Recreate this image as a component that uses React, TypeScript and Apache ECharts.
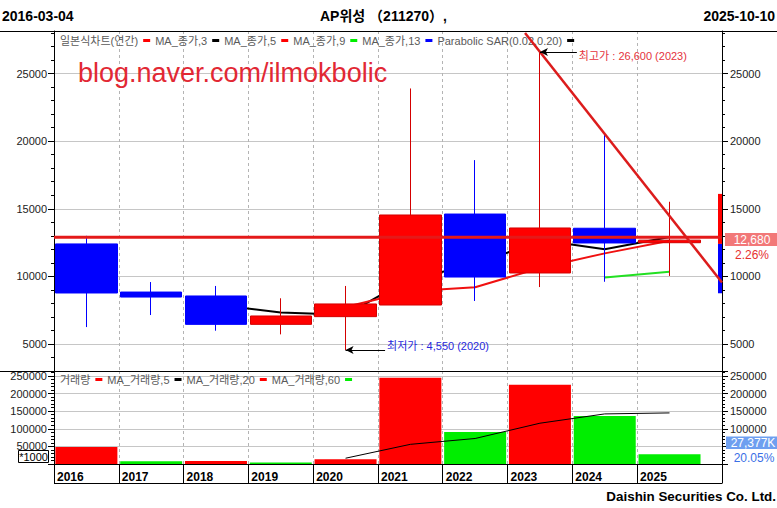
import React, { useEffect, useRef } from 'react';
import * as echarts from 'echarts';

// ---- data ----
const years = ['2016', '2017', '2018', '2019', '2020', '2021', '2022', '2023', '2024', '2025'];
const opens = [12400, 8840, 8550, 6450, 7020, 7880, 14610, 10250, 13560, 12490];
const closes = [8770, 8470, 6450, 7070, 7960, 14540, 9950, 13580, 12470, 12680];
const lows = [6250, 7140, 5980, 5710, 4550, 7880, 8180, 9210, 9600, 10030];
const highs = [13000, 9580, 9290, 8380, 9290, 23900, 18600, 26600, 20450, 15520];
const ma3 = [null, null, 7900, 7330, 7160, 9860, 10820, 12690, 12000, 12910];
const ma5 = [null, null, null, null, 7740, 8900, 9190, 10620, 11700, 12640];
const ma9 = [null, null, null, null, null, null, null, null, 9920, 10350];
const volumes = [48000, 7800, 8200, 4300, 13700, 245000, 90800, 225000, 136600, 27377];
const volMa5 = [null, null, null, null, 16400, 55800, 72400, 115800, 142200, 145000];
const trendX = [7.27, 10.31];
const trendY = [28000, 9550];
const levelLine = 12900;
const sideBarLevels = [16100, 12400, 8750];
const highIdx = 7;
const highVal = 26600;
const lowIdx = 4;
const lowVal = 4550;
const startDate = '2016-03-04';
const endDate = '2025-10-10';
const title = 'AP위성 （211270）,';
const lastPriceText = '12,680';
const lastPriceChg = '2.26%';
const lastVolText = '27,377K';
const lastVolChg = '20.05%';

const FONT = "'Liberation Sans', 'Noto Sans CJK KR', Arial, sans-serif";
const X_MAX = 10.31;
const RED = '#ff0000';
const BLUE = '#0000ff';
const GREEN = '#00ee00';
const CANDLE_NAME = '일본식차트(연간)';

export default function App() {
  const ref = useRef<HTMLDivElement>(null);

  useEffect(() => {
    const chart = echarts.init(ref.current!, null, { renderer: 'svg' });
    const candleData = years.map((_, i) => [i + 0.5, opens[i], closes[i], lows[i], highs[i]]);
    const toLine = (arr: (number | null)[]) =>
      arr.map((v, i) => (v == null ? null : [i + 0.5, v])).filter((d) => d !== null);
    const boundaryTicks = years.map((_, i) => i);
    const volData = volumes.map((v, i) => ({
      value: [i + 0.5, v],
      itemStyle: { color: i === 0 || v >= volumes[i - 1] ? RED : GREEN },
    }));
    const sideData = [
      [10.279, sideBarLevels[1], sideBarLevels[0]],
      [10.279, sideBarLevels[2], sideBarLevels[1]],
    ];
    const sideColors = [RED, BLUE];

    const vDash = { show: true, lineStyle: { color: '#b4b4b4', type: [3, 3], width: 1 } };
    const hGrid = { show: true, lineStyle: { color: '#c6c6c6', width: 1 }, showMinLine: false, showMaxLine: false };
    const labelBase = { fontSize: 11, color: '#222', fontFamily: FONT, formatter: (v: number) => String(v) };
    const legItem = (name: string, color: string) => ({
      name,
      icon: 'rect',
      itemStyle: { color, borderWidth: 0, borderColor: color },
      lineStyle: { width: 0 },
    });

    const txt = (x: number, y: number, text: string, o: any = {}) => ({
      type: 'text',
      x,
      y,
      z: 100,
      style: {
        text,
        fontSize: o.fontSize ?? 12,
        fontWeight: o.fontWeight ?? 'normal',
        fontFamily: FONT,
        fill: o.fill ?? '#000',
        align: o.align ?? 'left',
        textAlign: o.align ?? 'left',
        verticalAlign: 'middle',
        textVerticalAlign: 'middle',
      },
    });
    const ln = (x1: number, y1: number, x2: number, y2: number) => ({
      type: 'line',
      z: 90,
      shape: { x1, y1, x2, y2 },
      style: { stroke: '#000', lineWidth: 1 },
    });

    const legendBase = {
      left: 60,
      padding: 0,
      align: 'right',
      icon: 'rect',
      itemWidth: 7,
      itemHeight: 3,
      itemGap: 5,
      selectedMode: false,
      itemStyle: { borderWidth: 0 },
      textStyle: { fontSize: 11, color: '#5a5a5a', fontFamily: FONT },
    };

    const emptyLine = (name: string, color: string, xi: number, yi: number) => ({
      name,
      type: 'line',
      xAxisIndex: xi,
      yAxisIndex: yi,
      symbol: 'none',
      data: [],
      lineStyle: { color },
      itemStyle: { color },
    });

    const option: any = {
      animation: false,
      backgroundColor: '#fff',
      textStyle: { fontFamily: FONT },
      grid: [
        { left: 54, top: 31, width: 668, height: 340, outerBoundsMode: 'none' },
        { left: 54, top: 371, width: 668, height: 93, outerBoundsMode: 'none' },
      ],
      legend: [
        {
          ...legendBase,
          top: 35,
          data: [
            legItem(CANDLE_NAME, RED),
            legItem('MA_종가,3', '#000'),
            legItem('MA_종가,5', RED),
            legItem('MA_종가,9', GREEN),
            legItem('MA_종가,13', BLUE),
            legItem('Parabolic SAR(0.02,0.20)', '#000'),
          ],
        },
        {
          ...legendBase,
          top: 374,
          data: [
            legItem('거래량', RED),
            legItem('MA_거래량,5', '#000'),
            legItem('MA_거래량,20', RED),
            legItem('MA_거래량,60', GREEN),
          ],
        },
      ],
      xAxis: [
        {
          gridIndex: 0,
          type: 'value',
          min: 0,
          max: X_MAX,
          interval: 1,
          axisLine: { show: false },
          axisTick: { show: false, customValues: boundaryTicks },
          axisLabel: { show: false },
          splitLine: vDash,
        },
        {
          gridIndex: 1,
          type: 'value',
          min: 0,
          max: X_MAX,
          interval: 1,
          position: 'bottom',
          axisLine: { show: true, lineStyle: { color: '#000', width: 1 } },
          axisTick: {
            show: true,
            inside: false,
            length: 19,
            lineStyle: { color: '#000' },
            customValues: [...boundaryTicks, X_MAX],
          },
          axisLabel: {
            show: true,
            customValues: boundaryTicks,
            formatter: (v: number) => years[Math.round(v)] ?? '',
            align: 'left',
            verticalAlign: 'middle',
            margin: 13,
            padding: [0, 0, 0, 3],
            fontSize: 12,
            fontWeight: 'bold',
            color: '#000',
            fontFamily: FONT,
          },
          splitLine: vDash,
        },
      ],
      yAxis: [
        {
          gridIndex: 0,
          type: 'value',
          position: 'left',
          min: 3000,
          max: 28150,
          splitNumber: 5,
          axisLine: { show: true, lineStyle: { color: '#000' } },
          axisTick: { show: true, length: 6, lineStyle: { color: '#000' } },
          minorTick: { show: true, splitNumber: 5, length: 3, lineStyle: { color: '#000' } },
          axisLabel: { ...labelBase, showMinLabel: false, showMaxLabel: false, margin: 7 },
          splitLine: hGrid,
        },
        {
          gridIndex: 0,
          type: 'value',
          position: 'right',
          min: 3000,
          max: 28150,
          splitNumber: 5,
          axisLine: { show: true, lineStyle: { color: '#000' } },
          axisTick: { show: true, length: 6, lineStyle: { color: '#000' } },
          minorTick: { show: true, splitNumber: 5, length: 3, lineStyle: { color: '#000' } },
          axisLabel: { ...labelBase, showMinLabel: false, showMaxLabel: false, margin: 8 },
          splitLine: { show: false },
        },
        {
          gridIndex: 1,
          type: 'value',
          position: 'left',
          min: 0,
          max: 264000,
          splitNumber: 5,
          axisLine: { show: true, lineStyle: { color: '#000' } },
          axisTick: { show: true, length: 6, lineStyle: { color: '#000' } },
          minorTick: { show: true, splitNumber: 5, length: 3, lineStyle: { color: '#000' } },
          axisLabel: { ...labelBase, showMinLabel: false, showMaxLabel: false, margin: 7 },
          splitLine: hGrid,
        },
        {
          gridIndex: 1,
          type: 'value',
          position: 'right',
          min: 0,
          max: 264000,
          splitNumber: 5,
          axisLine: { show: true, lineStyle: { color: '#000' } },
          axisTick: { show: true, length: 6, lineStyle: { color: '#000' } },
          minorTick: { show: true, splitNumber: 5, length: 3, lineStyle: { color: '#000' } },
          axisLabel: {
            ...labelBase,
            showMinLabel: false,
            showMaxLabel: false,
            margin: 8,
            formatter: (v: number) => (v === 50000 ? '' : String(v)),
          },
          splitLine: { show: false },
        },
      ],
      series: [
        {
          name: 'candles',
          type: 'candlestick',
          xAxisIndex: 0,
          yAxisIndex: 0,
          z: 3,
          barWidth: 62,
          data: candleData,
          itemStyle: { color: RED, color0: BLUE, borderColor: '#d40000', borderColor0: BLUE, borderWidth: 1 },
          markLine: {
            silent: true,
            animation: false,
            symbol: ['arrow', 'none'],
            symbolSize: [6, 8],
            lineStyle: { color: '#000', width: 1, type: 'solid' },
            data: [
              [
                {
                  coord: [highIdx + 0.5, highVal],
                  label: {
                    show: true,
                    position: 'end',
                    distance: 2,
                    offset: [0, 4],
                    formatter: `최고가 : ${highVal.toLocaleString('en-US')} (${years[highIdx]})`,
                    color: '#e4323c',
                    fontSize: 11,
                    fontFamily: FONT,
                  },
                },
                { coord: [8.07, highVal] },
              ],
              [
                {
                  coord: [lowIdx + 0.5, lowVal],
                  label: {
                    show: true,
                    position: 'end',
                    distance: 2,
                    offset: [0, -4],
                    formatter: `최저가 : ${lowVal.toLocaleString('en-US')} (${years[lowIdx]})`,
                    color: '#2828dc',
                    fontSize: 11,
                    fontFamily: FONT,
                  },
                },
                { coord: [5.11, lowVal] },
              ],
            ],
          },
        },
        emptyLine(CANDLE_NAME, RED, 0, 0),
        {
          name: 'MA_종가,3',
          type: 'line',
          xAxisIndex: 0,
          yAxisIndex: 0,
          z: 2,
          symbol: 'none',
          data: toLine(ma3),
          lineStyle: { color: '#000', width: 2 },
          itemStyle: { color: '#000' },
        },
        {
          name: 'MA_종가,5',
          type: 'line',
          xAxisIndex: 0,
          yAxisIndex: 0,
          z: 2,
          symbol: 'none',
          data: toLine(ma5),
          lineStyle: { color: '#f01010', width: 2 },
          itemStyle: { color: RED },
        },
        {
          name: 'MA_종가,9',
          type: 'line',
          xAxisIndex: 0,
          yAxisIndex: 0,
          z: 2,
          symbol: 'none',
          data: toLine(ma9),
          lineStyle: { color: '#22e022', width: 2 },
          itemStyle: { color: GREEN },
        },
        emptyLine('MA_종가,13', BLUE, 0, 0),
        emptyLine('Parabolic SAR(0.02,0.20)', '#000', 0, 0),
        {
          name: 'level',
          type: 'line',
          xAxisIndex: 0,
          yAxisIndex: 0,
          z: 4,
          symbol: 'none',
          data: [
            [0, levelLine],
            [X_MAX, levelLine],
          ],
          lineStyle: { color: '#e41a1a', width: 3 },
        },
        {
          name: 'trend',
          type: 'line',
          xAxisIndex: 0,
          yAxisIndex: 0,
          z: 4,
          symbol: 'none',
          data: trendX.map((x, i) => [x, trendY[i]]),
          lineStyle: { color: '#dc1c1c', width: 2.5 },
        },
        {
          name: 'side',
          type: 'custom',
          xAxisIndex: 0,
          yAxisIndex: 0,
          z: 4,
          data: sideData,
          renderItem: (params: any, api: any) => {
            const x = api.value(0);
            const lo = api.value(1);
            const hi = api.value(2);
            const p1 = api.coord([x, hi]);
            const p2 = api.coord([x, lo]);
            return {
              type: 'rect',
              shape: { x: p1[0] - 2, y: p1[1], width: 4, height: p2[1] - p1[1] },
              style: { fill: sideColors[params.dataIndex] },
            };
          },
        },
        {
          name: '거래량',
          type: 'bar',
          xAxisIndex: 1,
          yAxisIndex: 2,
          barWidth: 62,
          z: 3,
          data: volData,
          itemStyle: { color: RED },
        },
        {
          name: 'MA_거래량,5',
          type: 'line',
          xAxisIndex: 1,
          yAxisIndex: 2,
          z: 4,
          symbol: 'none',
          data: toLine(volMa5),
          lineStyle: { color: '#000', width: 1 },
          itemStyle: { color: '#000' },
        },
        emptyLine('MA_거래량,20', RED, 1, 2),
        emptyLine('MA_거래량,60', GREEN, 1, 2),
      ],
      graphic: [
        txt(2, 16, startDate, { fontSize: 14, fontWeight: 'bold' }),
        txt(320, 16, title, { fontSize: 14, fontWeight: 'bold' }),
        txt(775, 16, endDate, { fontSize: 14, fontWeight: 'bold', align: 'right' }),
        ln(0, 31.5, 777, 31.5),
        ln(0, 371.5, 722, 371.5),
        ln(54, 483.5, 722.5, 483.5),
        txt(78, 73, 'blog.naver.com/ilmokbolic', { fontSize: 27, fill: 'rgb(226,40,52)' }),
        {
          type: 'rect',
          z: 100,
          shape: { x: 18.5, y: 450.5, width: 30, height: 12 },
          style: { fill: '#fff', stroke: '#000', lineWidth: 1 },
        },
        txt(33.5, 457, '*1000', { fontSize: 11, align: 'center' }),
        {
          type: 'rect',
          z: 100,
          shape: { x: 725, y: 233, width: 52, height: 13 },
          style: { fill: '#f27878' },
        },
        txt(752, 239.5, lastPriceText, { fontSize: 12, fill: '#fff', align: 'center' }),
        txt(752, 254.5, lastPriceChg, { fontSize: 12, fill: '#e63030', align: 'center' }),
        {
          type: 'rect',
          z: 100,
          shape: { x: 726, y: 436.5, width: 51, height: 12.5 },
          style: { fill: '#6e9ff0' },
        },
        txt(753, 443, lastVolText, { fontSize: 12, fill: '#fff', align: 'center' }),
        txt(754, 457.5, lastVolChg, { fontSize: 12, fill: '#3a6fe6', align: 'center' }),
        txt(776, 496, 'Daishin Securities Co. Ltd.', { fontSize: 13.4, fontWeight: 'bold', align: 'right' }),
      ],
    };

    chart.setOption(option);
    return () => chart.dispose();
  }, []);

  return (
    <div
      ref={ref}
      style={{ position: 'absolute', left: 0, top: 0, width: 777, height: 508, background: '#fff' }}
    />
  );
}
